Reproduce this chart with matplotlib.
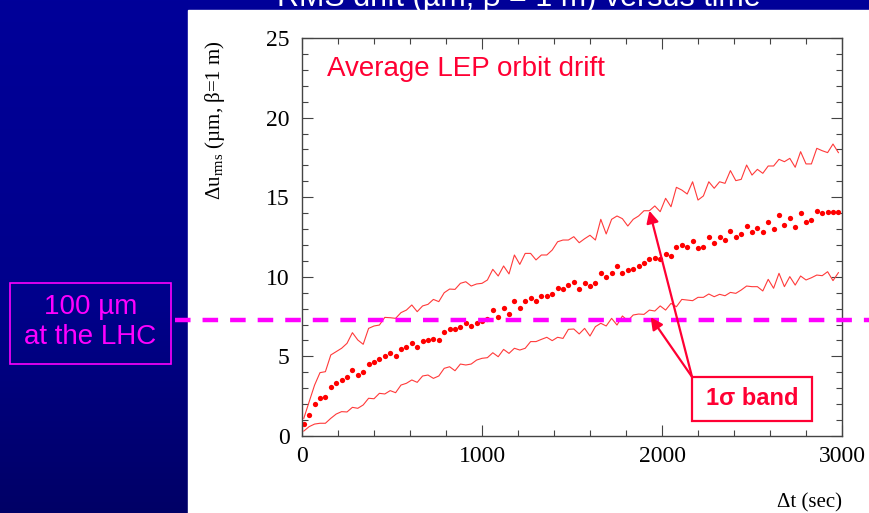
import matplotlib
matplotlib.use("Agg")
import matplotlib.pyplot as plt
import numpy as np
from matplotlib.patches import Rectangle
from matplotlib.ticker import MultipleLocator

# Drift data (one sample every 30 s)
t_sec = np.arange(10, 3000, 30)

mean_drift = [0.75, 1.34, 2.01, 2.41, 2.43, 3.10, 3.31, 3.54, 3.68, 4.17,
              3.81, 4.04, 4.54, 4.65, 4.86, 5.03, 5.19, 5.05, 5.46, 5.57,
              5.86, 5.59, 5.97, 6.05, 6.09, 6.05, 6.55, 6.72, 6.70, 6.85,
              7.12, 6.93, 7.10, 7.20, 7.35, 7.89, 7.47, 8.06, 7.64, 8.50,
              8.06, 8.50, 8.69, 8.46, 8.79, 8.82, 8.90, 9.30, 9.25, 9.46,
              9.65, 9.25, 9.61, 9.44, 9.61, 10.22, 9.99, 10.22, 10.70, 10.24,
              10.41, 10.49, 10.70, 10.89, 11.10, 11.18, 11.10, 11.41, 11.31, 11.85,
              12.02, 11.87, 12.27, 11.79, 11.89, 12.48, 12.14, 12.48, 12.31, 12.88,
              12.48, 12.67, 13.21, 12.83, 13.07, 12.79, 13.42, 13.02, 13.86, 13.23,
              13.71, 13.13, 14.03, 13.42, 13.55, 14.13, 13.99, 14.09, 14.07, 14.07]

upper_band = [1.11, 2.16, 3.20, 3.98, 4.04, 5.09, 5.30, 5.51, 5.82, 6.49,
              6.03, 5.76, 6.76, 6.91, 6.97, 7.45, 7.43, 7.39, 7.75, 7.91,
              8.23, 7.81, 8.17, 8.27, 8.58, 8.44, 9.00, 9.23, 9.21, 9.59,
              9.69, 9.42, 9.55, 9.59, 9.80, 10.47, 10.05, 10.68, 10.18, 11.37,
              10.78, 11.47, 11.47, 11.06, 11.37, 11.37, 11.68, 12.20, 12.31, 12.31,
              12.52, 12.14, 12.39, 12.61, 12.31, 13.61, 12.69, 13.61, 13.82, 13.65,
              13.19, 13.61, 13.82, 14.15, 14.15, 14.45, 14.09, 14.93, 14.40, 15.62,
              15.45, 15.20, 15.97, 14.82, 15.08, 15.97, 15.56, 15.97, 15.87, 16.67,
              16.04, 16.12, 17.02, 16.39, 16.75, 16.50, 16.96, 16.96, 17.38, 17.23,
              17.44, 16.88, 17.86, 17.09, 17.09, 18.07, 17.92, 17.80, 18.34, 17.80]

lower_band = [0.31, 0.59, 0.75, 0.80, 0.80, 1.11, 1.38, 1.53, 1.51, 1.80,
              1.74, 1.95, 2.37, 2.34, 2.68, 2.64, 2.85, 2.72, 3.20, 3.31,
              3.52, 3.37, 3.77, 3.83, 3.62, 3.77, 4.25, 4.35, 4.10, 4.52,
              4.46, 4.52, 4.77, 4.88, 4.92, 5.23, 4.98, 5.44, 5.19, 5.51,
              5.40, 5.51, 5.93, 5.93, 6.07, 6.20, 5.99, 6.20, 6.13, 6.70,
              6.72, 6.41, 6.76, 6.28, 6.87, 7.08, 6.91, 7.39, 6.97, 7.54,
              7.24, 7.60, 7.66, 7.64, 7.91, 7.85, 8.17, 7.91, 8.33, 8.12,
              8.58, 8.54, 8.50, 8.71, 8.71, 8.92, 8.75, 8.90, 8.81, 9.02,
              8.96, 9.17, 9.42, 9.38, 9.38, 9.11, 9.84, 9.28, 10.22, 9.38,
              10.01, 9.48, 10.05, 9.80, 9.94, 10.11, 10.07, 10.32, 9.76, 10.26]

lhc_level = 7.3  # 100 um at the LHC
band_tips = [(1930, 14.15), (1937, 7.46)]
band_box = (2167, 0.94, 666, 2.77)

red = "#ff0033"
magenta = "#ff00ff"

fig = plt.figure(figsize=(8.69, 5.13), dpi=100)

# slide background: blue gradient with white panel
bg = fig.add_axes([0, 0, 1, 1], zorder=-5)
bg.set_xlim(0, 869)
bg.set_ylim(513, 0)
bg.axis("off")
shade = np.interp(np.arange(513), [0, 300, 513], [0.60, 0.545, 0.40])
grad = np.zeros((513, 1, 3))
grad[:, 0, 2] = shade
bg.imshow(grad, extent=(0, 869, 513, 0), aspect="auto")
bg.add_patch(Rectangle((188, 10), 700, 520, color="white"))

# slide title, mostly cut off by the top edge as in the original
fig.text(519 / 869, 1 - 6 / 513, "RMS drift (µm, β = 1 m) versus time",
         color="white", fontsize=22, family="Liberation Sans",
         ha="center", va="baseline")

ax = fig.add_axes([302 / 869, 77 / 513, 540 / 869, 398 / 513])
ax.set_facecolor("white")

ax.plot(t_sec, upper_band, color="#ff3a3a", lw=0.8)
ax.plot(t_sec, lower_band, color="#ff3a3a", lw=0.8)
ax.plot(t_sec, mean_drift, "o", color="#ff0000", ms=3.8, mec="none")

ax.axhline(lhc_level, xmin=-0.235, xmax=1.06, clip_on=False, color=magenta,
           lw=3.2, dashes=(3.5, 2.7), zorder=5)

ax.set_xlim(0, 3000)
ax.set_ylim(0, 25)
ax.xaxis.set_major_locator(MultipleLocator(1000))
ax.xaxis.set_minor_locator(MultipleLocator(200))
ax.yaxis.set_major_locator(MultipleLocator(5))
ax.yaxis.set_minor_locator(MultipleLocator(1))
ax.tick_params(which="both", direction="in", top=True, right=True,
               color="#444444", width=0.8)
ax.tick_params(which="major", length=8)
ax.tick_params(which="minor", length=4.5)
ax.tick_params(axis="x", pad=7)
ax.tick_params(axis="y", pad=9)
for lab in ax.get_xticklabels() + ax.get_yticklabels():
    lab.set_family("Liberation Serif")
    lab.set_fontsize(17)
for sp in ax.spines.values():
    sp.set_color("#444444")
    sp.set_linewidth(1.0)

ax.text(-0.161, 0.995, "Δu$_{\\mathregular{rms}}$ (µm, β=1 m)", rotation=90,
        transform=ax.transAxes, ha="center", va="top", fontsize=15,
        family="Liberation Serif")
ax.text(1.0, -0.168, "Δt (sec)", transform=ax.transAxes, ha="right",
        va="center", fontsize=15, family="Liberation Serif")

ax.text(0.046, 0.9045, "Average LEP orbit drift", transform=ax.transAxes,
        color=red, fontsize=20, family="Liberation Sans", va="baseline")

# 1 sigma band label with arrows
bx, by, bw, bh = band_box
ax.add_patch(Rectangle((bx, by), bw, bh, facecolor="white", edgecolor=red,
                       lw=1.6, zorder=6))
ax.text(bx + bw / 2, by + bh / 2, "1σ band", color=red, fontsize=17,
        fontweight="bold", family="Liberation Sans", ha="center",
        va="center", zorder=7)
for tip in band_tips:
    ax.annotate("", xy=tip, xytext=(bx, by + bh),
                arrowprops=dict(arrowstyle="-|>", color=red, lw=1.6,
                                mutation_scale=18, shrinkA=0, shrinkB=0),
                zorder=7)

# LHC scale box on the blue margin
fig.add_artist(Rectangle((10 / 869, 149 / 513), 161 / 869, 81 / 513,
                         transform=fig.transFigure, fill=False,
                         edgecolor=magenta, lw=1.2))
fig.text(90.5 / 869, 1 - 322 / 513, "100 µm\nat the LHC", color=magenta,
         fontsize=20, family="Liberation Sans", ha="center", va="center",
         linespacing=1.15)

fig.savefig("out.png", dpi=100)
